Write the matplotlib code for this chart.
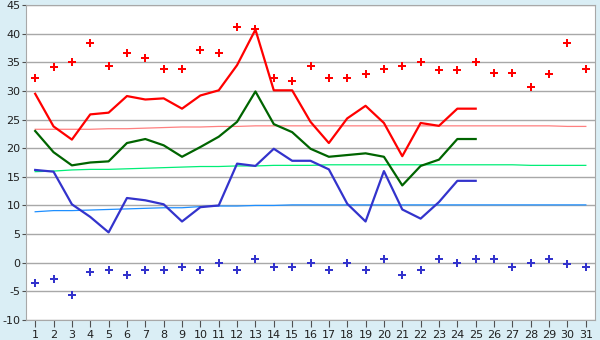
import numpy as np
import matplotlib.pyplot as plt

plt.rcParams['axes.unicode_minus'] = False

days = np.arange(1, 32)

# record max / min (markers)
rec_max = [32.3, 34.1, 35.1, 38.3, 34.4, 36.7, 35.7, 33.9, 33.9, 37.2,
           36.7, 41.1, 40.8, 32.2, 31.7, 34.4, 32.3, 32.2, 32.9, 33.9,
           34.4, 35.0, 33.7, 33.6, 35.0, 33.2, 33.2, 30.6, 32.9, 38.3, 33.9]
rec_min = [-3.5, -2.8, -5.6, -1.7, -1.2, -2.2, -1.2, -1.2, -0.7, -1.2,
           0.0, -1.2, 0.6, -0.7, -0.7, 0.0, -1.2, 0.0, -1.2, 0.6,
           -2.2, -1.2, 0.6, 0.0, 0.6, 0.6, -0.7, 0.0, 0.7, -0.2, -0.7]

# observed (days 1-25)
t_max = [29.5, 23.8, 21.5, 25.9, 26.2, 29.1, 28.5, 28.7, 26.9, 29.2,
         30.1, 34.5, 40.7, 30.1, 30.1, 24.6, 20.9, 25.2, 27.4, 24.4,
         18.6, 24.4, 23.9, 26.9, 26.9]
t_mean = [23.0, 19.3, 17.0, 17.5, 17.7, 20.9, 21.6, 20.5, 18.5, 20.2,
          22.0, 24.6, 29.9, 24.2, 22.8, 19.9, 18.5, 18.8, 19.1, 18.5,
          13.5, 16.9, 18.0, 21.6, 21.6]
t_min = [16.2, 15.9, 10.2, 8.0, 5.3, 11.3, 10.9, 10.2, 7.2, 9.7,
         10.0, 17.3, 16.9, 19.9, 17.8, 17.8, 16.3, 10.3, 7.2, 16.0,
         9.3, 7.7, 10.6, 14.3, 14.3]

# normals
n_max = [23.3, 23.3, 23.3, 23.3, 23.4, 23.4, 23.5, 23.6, 23.7, 23.7,
         23.8, 23.8, 23.9, 23.9, 23.9, 23.9, 23.9, 23.9, 23.9, 23.9,
         23.9, 23.9, 23.9, 23.9, 23.9, 23.9, 23.9, 23.9, 23.9, 23.8, 23.8]
n_mean = [15.9, 16.0, 16.2, 16.3, 16.3, 16.4, 16.5, 16.6, 16.7, 16.8,
          16.8, 16.9, 16.9, 17.0, 17.0, 17.0, 17.1, 17.1, 17.1, 17.1,
          17.1, 17.1, 17.1, 17.1, 17.1, 17.1, 17.1, 17.0, 17.0, 17.0, 17.0]
n_min = [8.9, 9.1, 9.1, 9.2, 9.3, 9.4, 9.5, 9.6, 9.6, 9.8,
         9.9, 9.9, 10.0, 10.0, 10.1, 10.1, 10.1, 10.1, 10.1, 10.1,
         10.1, 10.1, 10.1, 10.1, 10.1, 10.1, 10.1, 10.1, 10.1, 10.1, 10.1]

fig = plt.figure(figsize=(6, 3.4), dpi=100, facecolor='#daeef5')
ax = fig.add_axes([26/600, 20/340, 569/600, 315/340])
ax.set_facecolor('white')

obs = days[:len(t_max)]

ax.plot(days, n_max, color='#ff8080', lw=0.9)
ax.plot(days, n_mean, color='#00ee77', lw=0.9)
ax.plot(days, n_min, color='#1e8fff', lw=0.9)

ax.plot(obs, t_max, color='#ff0000', lw=1.6)
ax.plot(obs, t_mean, color='#006400', lw=1.6)
ax.plot(obs, t_min, color='#3333cc', lw=1.6)

ax.plot(days, rec_max, ls='none', marker='P', ms=5.5, color='#ff0000', mew=0)
ax.plot(days, rec_min, ls='none', marker='P', ms=5.5, color='#3333cc', mew=0)

ax.set_xlim(0.5, 31.5)
ax.set_ylim(-10, 45)
ax.set_xticks(days)
ax.set_yticks(np.arange(-10, 46, 5))
ax.grid(axis='y', color='#a8a8a8', lw=1)
ax.set_axisbelow(True)

for s in ax.spines.values():
    s.set_color('#a8a8a8')
ax.tick_params(colors='#505050', labelcolor='#202020', labelsize=8)
ax.tick_params(axis='y', length=3, pad=1)
ax.tick_params(axis='x', length=5, pad=2)

fig.savefig('out.png', dpi=100, facecolor=fig.get_facecolor())
